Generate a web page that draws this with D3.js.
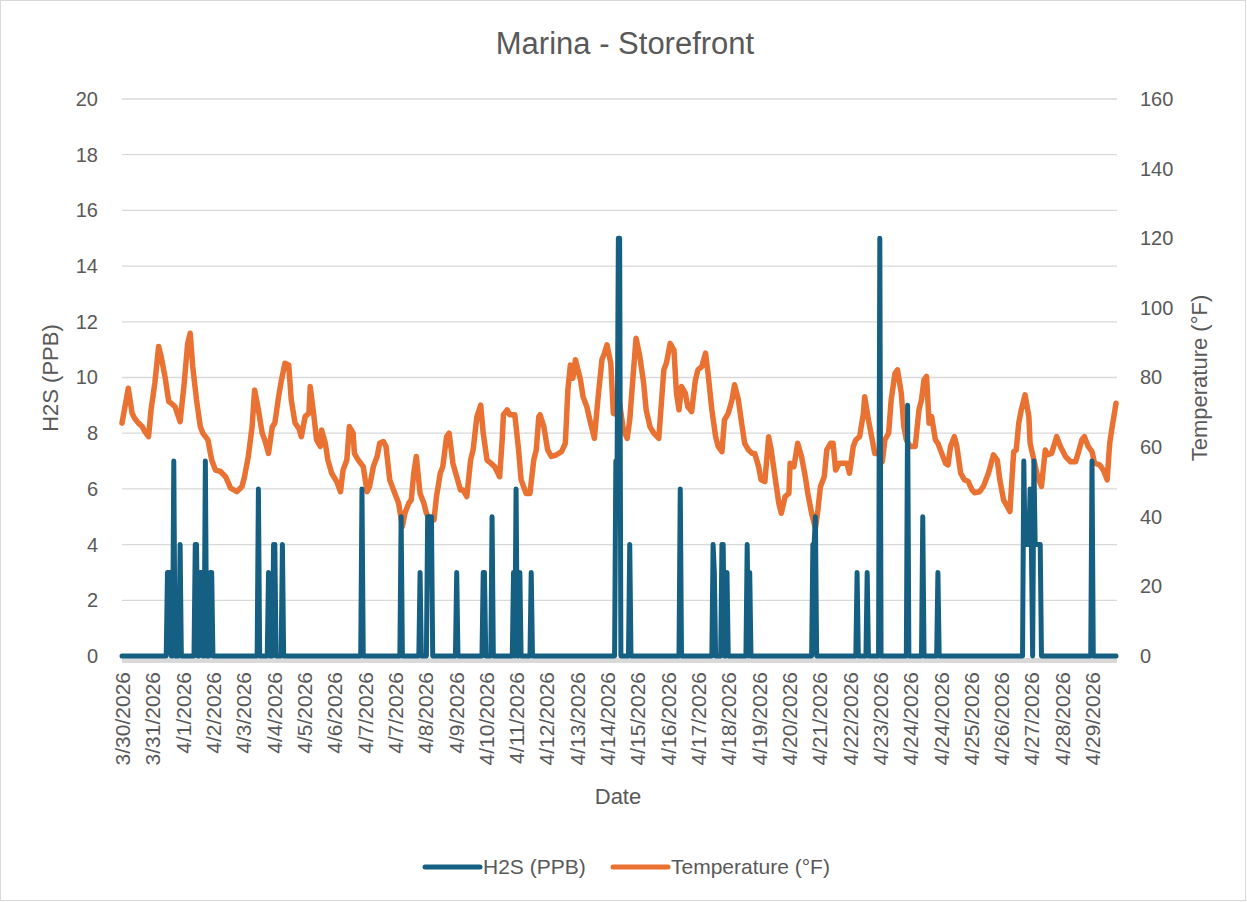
<!DOCTYPE html>
<html>
<head>
<meta charset="UTF-8">
<title>Marina - Storefront</title>
<script src="https://cdn.jsdelivr.net/npm/d3@7"></script>
<style>
  body { margin: 0; background: #ffffff; }
  text { font-family: "Liberation Sans", Arial, sans-serif; fill: #595959; }
</style>
</head>
<body>
<script>

// Category labels, one every 24 readings (hourly readings)
var dateLabels = ["3/30/2026", "3/31/2026", "4/1/2026", "4/2/2026", "4/3/2026", "4/4/2026",
    "4/5/2026", "4/6/2026", "4/7/2026", "4/7/2026", "4/8/2026", "4/9/2026", "4/10/2026",
    "4/11/2026", "4/12/2026", "4/13/2026", "4/14/2026", "4/15/2026", "4/16/2026", "4/17/2026",
    "4/18/2026", "4/19/2026", "4/20/2026", "4/21/2026", "4/22/2026", "4/23/2026", "4/24/2026",
    "4/24/2026", "4/25/2026", "4/26/2026", "4/27/2026", "4/28/2026", "4/29/2026"];
var labelEvery = 24;
var lastReading = 787;

// Temperature (°F) readings: [reading index, value]
var temperature = [
    [0,66.9],[5,76.9],[8,69.7],[10,68.3],[13,66.9],[16,65.9],[18,64.5],[21,63.0],[23,70.7],[26,78.4],
    [29,88.9],[31,86.0],[34,80.3],[37,73.1],[39,72.6],[42,71.6],[46,67.3],[49,77.4],[52,89.8],[54,92.7],
    [56,83.1],[59,73.6],[62,65.9],[64,64.0],[68,62.1],[71,56.3],[74,53.4],[78,53.0],[82,51.5],[86,48.2],
    [91,47.2],[95,48.7],[97,51.5],[100,57.3],[103,65.9],[105,76.4],[108,70.7],[111,64.0],[113,62.1],[116,58.2],
    [119,65.9],[121,66.9],[124,74.5],[126,78.8],[129,84.1],[132,83.6],[134,73.6],[137,66.9],[140,65.4],[142,63.0],
    [145,68.8],[148,69.7],[149,77.4],[152,68.8],[154,62.1],[157,60.2],[158,64.9],[161,61.1],[163,56.3],[166,52.5],
    [170,50.1],[173,47.2],[175,53.4],[178,56.3],[180,65.9],[183,64.0],[184,58.2],[187,56.3],[191,54.4],[194,47.2],
    [196,48.7],[199,54.4],[202,57.3],[204,61.1],[207,61.6],[209,60.2],[212,50.6],[215,47.7],[219,43.9],[222,37.2],
    [224,41.0],[227,43.9],[229,44.8],[231,52.5],[233,57.3],[236,46.7],[239,43.9],[241,41.0],[244,39.1],[247,39.1],
    [249,45.8],[252,52.5],[254,54.4],[257,63.0],[259,64.0],[262,55.4],[265,51.5],[268,47.7],[270,47.7],[273,45.8],
    [276,56.3],[278,59.2],[281,68.8],[284,72.1],[286,64.0],[289,56.3],[292,55.4],[295,54.4],[299,51.5],[301,62.1],
    [302,69.3],[305,70.7],[307,69.3],[311,69.3],[314,59.2],[316,50.6],[320,46.7],[323,46.7],[326,56.3],[328,59.2],
    [330,68.8],[331,69.3],[334,65.9],[337,59.2],[340,57.3],[344,57.8],[348,58.7],[351,61.1],[353,76.4],[355,83.6],
    [357,79.8],[359,85.1],[363,79.3],[365,74.5],[368,71.6],[371,66.9],[374,62.5],[377,74.5],[380,85.1],[382,87.0],
    [384,89.4],[387,84.1],[389,69.7],[392,69.3],[394,72.6],[397,64.9],[400,62.5],[402,67.8],[404,77.4],[407,91.3],
    [410,86.0],[413,78.4],[415,70.7],[418,65.9],[421,64.0],[425,62.5],[429,82.2],[431,84.1],[434,89.8],[437,87.9],
    [439,75.5],[441,70.7],[443,77.4],[446,75.5],[448,71.6],[451,70.2],[454,79.3],[456,82.2],[459,83.1],[462,87.0],
    [464,81.2],[467,70.7],[470,63.0],[472,60.2],[475,58.7],[477,67.8],[480,69.7],[483,73.6],[485,77.9],[488,73.6],
    [491,65.9],[493,61.1],[496,59.2],[499,58.2],[501,58.2],[504,54.4],[506,50.6],[509,50.1],[512,63.0],[514,59.2],
    [517,51.5],[520,43.9],[522,41.0],[525,45.8],[528,46.7],[529,55.4],[532,54.4],[535,61.1],[538,57.3],[541,51.5],
    [543,46.7],[546,41.0],[549,36.7],[551,42.0],[553,48.7],[556,51.5],[558,59.2],[561,61.1],[563,61.1],[565,53.4],
    [568,55.4],[571,55.4],[574,55.4],[576,52.5],[579,60.2],[581,62.1],[584,63.0],[587,69.7],[588,74.5],[591,67.8],
    [594,62.1],[596,58.2],[599,58.2],[602,55.8],[604,62.1],[607,64.0],[609,73.6],[612,81.2],[614,82.2],[617,75.5],
    [619,65.9],[621,62.1],[624,60.2],[628,60.2],[631,70.7],[633,73.6],[635,79.3],[637,80.3],[639,66.9],[641,68.8],
    [644,62.1],[646,61.1],[649,58.2],[652,55.4],[654,54.9],[656,60.2],[659,63.0],[661,60.2],[664,52.5],[667,50.6],
    [670,50.1],[673,47.7],[675,46.9],[679,47.2],[682,48.7],[686,52.5],[690,57.8],[693,56.3],[695,50.6],[698,44.8],
    [701,42.9],[703,41.5],[706,58.7],[708,59.2],[710,66.9],[712,70.7],[715,75.0],[718,68.8],[719,61.1],[722,56.3],
    [725,51.5],[728,48.7],[731,59.2],[733,57.8],[736,58.2],[740,63.0],[743,60.2],[747,57.3],[751,55.8],[755,55.8],
    [757,58.2],[760,62.1],[762,63.0],[765,60.2],[768,58.7],[770,55.4],[774,54.9],[777,53.4],[780,50.6],[782,61.1],
    [784,65.9],[787,72.6]
];

// H2S (PPB) non-zero readings: [reading index, value]; every other reading is 0
var h2sReadings = [
    [36,3],[37,3],[38,3],[41,7],[46,4],
    [58,4],[59,4],[62,3],[63,3],[66,7],[70,3],[71,3],
    [108,6],[116,3],[120,4],[121,4],[127,4],
    [190,6],[221,5],[236,3],[242,5],[243,5],[244,5],[245,5],[265,3],
    [286,3],[287,3],[293,5],[310,3],[312,6],[315,3],[324,3],
    [391,7],[392,7],[393,15],[394,15],[402,4],[442,6],
    [468,4],[469,3],[475,4],[476,4],[479,3],[495,4],[497,3],
    [547,4],[548,4],[549,5],[582,3],[590,3],[600,15],[622,9],[634,5],[646,3],
    [714,7],[715,4],[716,4],[717,4],[718,4],[719,6],[720,4],[722,7],[723,4],[724,4],[725,4],[726,4],[727,4],
    [768,7]
];

var h2sTicks = [0, 2, 4, 6, 8, 10, 12, 14, 16, 18, 20];
var tempTicks = [0, 20, 40, 60, 80, 100, 120, 140, 160];

var blue = "#156082", orange = "#E97132", grid = "#d9d9d9";

var svg = d3.select("body").append("svg")
            .attr("width", 1247)
            .attr("height", 902);

svg.append("rect")
   .attr("x", 0.5).attr("y", 0.5)
   .attr("width", 1245).attr("height", 900)
   .attr("fill", "#ffffff")
   .attr("stroke", grid);

var plotLeft = 122, plotRight = 1117, plotTop = 99, plotBottom = 656;

var x = d3.scaleLinear().domain([0, lastReading]).range([plotLeft, plotRight - 1]);
var yL = d3.scaleLinear().domain([0, 20]).range([plotBottom, plotTop]);
var yR = d3.scaleLinear().domain([0, 160]).range([plotBottom, plotTop]);

//Gridlines
svg.append("g").selectAll("line")
   .data(h2sTicks.slice(1))
   .enter().append("line")
      .attr("x1", plotLeft).attr("x2", plotRight)
      .attr("y1", function(d) { return yL(d); })
      .attr("y2", function(d) { return yL(d); })
      .attr("stroke", grid)
      .attr("stroke-width", 1.3);

//Category axis line
svg.append("line")
   .attr("x1", plotLeft).attr("x2", plotRight)
   .attr("y1", plotBottom + 4.5).attr("y2", plotBottom + 4.5)
   .attr("stroke", grid)
   .attr("stroke-width", 5);

//Left axis
var leftAxis = svg.append("g")
    .attr("transform", "translate(" + plotLeft + ",0)")
    .call(d3.axisLeft(yL).tickValues(h2sTicks).tickSize(0).tickPadding(24));
leftAxis.select(".domain").remove();
leftAxis.selectAll("text").style("font-size", "20px").attr("fill", "#595959");

//Right axis
var rightAxis = svg.append("g")
    .attr("transform", "translate(" + plotRight + ",0)")
    .call(d3.axisRight(yR).tickValues(tempTicks).tickSize(0).tickPadding(23));
rightAxis.select(".domain").remove();
rightAxis.selectAll("text").style("font-size", "20px").attr("fill", "#595959");

//Bottom axis, rotated date labels
var labelIdx = dateLabels.map(function(d, i) { return i * labelEvery; });
var bottomAxis = svg.append("g")
    .attr("transform", "translate(0," + plotBottom + ")")
    .call(d3.axisBottom(x).tickValues(labelIdx).tickSize(0)
            .tickFormat(function(d, i) { return dateLabels[i]; }));
bottomAxis.select(".domain").remove();
bottomAxis.selectAll("text")
    .style("font-size", "21px")
    .attr("fill", "#595959")
    .attr("text-anchor", "end")
    .attr("transform", "rotate(-90)")
    .attr("x", -16)
    .attr("y", 0)
    .attr("dy", "0.36em");

//Build the H2S line from its non-zero readings
var h2sPoints = [[0, 0]];
h2sReadings.forEach(function(r, i) {
    var prev = h2sReadings[i - 1], next = h2sReadings[i + 1];
    if (!prev || prev[0] !== r[0] - 1) h2sPoints.push([r[0] - 1, 0]);
    h2sPoints.push(r);
    if (!next || next[0] !== r[0] + 1) h2sPoints.push([r[0] + 1, 0]);
});
h2sPoints.push([lastReading, 0]);

var tempLine = d3.line()
    .x(function(d) { return x(d[0]); })
    .y(function(d) { return yR(d[1]); });
var h2sLine = d3.line()
    .x(function(d) { return x(d[0]); })
    .y(function(d) { return yL(d[1]); });

svg.append("path")
   .datum(temperature)
   .attr("d", tempLine)
   .attr("fill", "none")
   .attr("stroke", orange)
   .attr("stroke-width", 5.5)
   .attr("stroke-linejoin", "round")
   .attr("stroke-linecap", "round");

svg.append("path")
   .datum(h2sPoints)
   .attr("d", h2sLine)
   .attr("fill", "none")
   .attr("stroke", blue)
   .attr("stroke-width", 5)
   .attr("stroke-linejoin", "round")
   .attr("stroke-linecap", "round");

//Titles
svg.append("text")
   .attr("x", 625).attr("y", 54)
   .attr("text-anchor", "middle")
   .style("font-size", "31px")
   .text("Marina - Storefront");

svg.append("text")
   .attr("transform", "translate(58,378) rotate(-90)")
   .attr("text-anchor", "middle")
   .style("font-size", "22px")
   .text("H2S (PPB)");

svg.append("text")
   .attr("transform", "translate(1207,378) rotate(-90)")
   .attr("text-anchor", "middle")
   .style("font-size", "22px")
   .text("Temperature (°F)");

svg.append("text")
   .attr("x", 618).attr("y", 804)
   .attr("text-anchor", "middle")
   .style("font-size", "22px")
   .text("Date");

//Legend
var legend = [
    { name: "H2S (PPB)", color: blue, x: 425 },
    { name: "Temperature (°F)", color: orange, x: 613 }
];
legend.forEach(function(l) {
    svg.append("line")
       .attr("x1", l.x).attr("x2", l.x + 55)
       .attr("y1", 867).attr("y2", 867)
       .attr("stroke", l.color)
       .attr("stroke-width", 5)
       .attr("stroke-linecap", "round");
    svg.append("text")
       .attr("x", l.x + 58).attr("y", 874)
       .style("font-size", "21px")
       .text(l.name);
});

</script>
</body>
</html>
